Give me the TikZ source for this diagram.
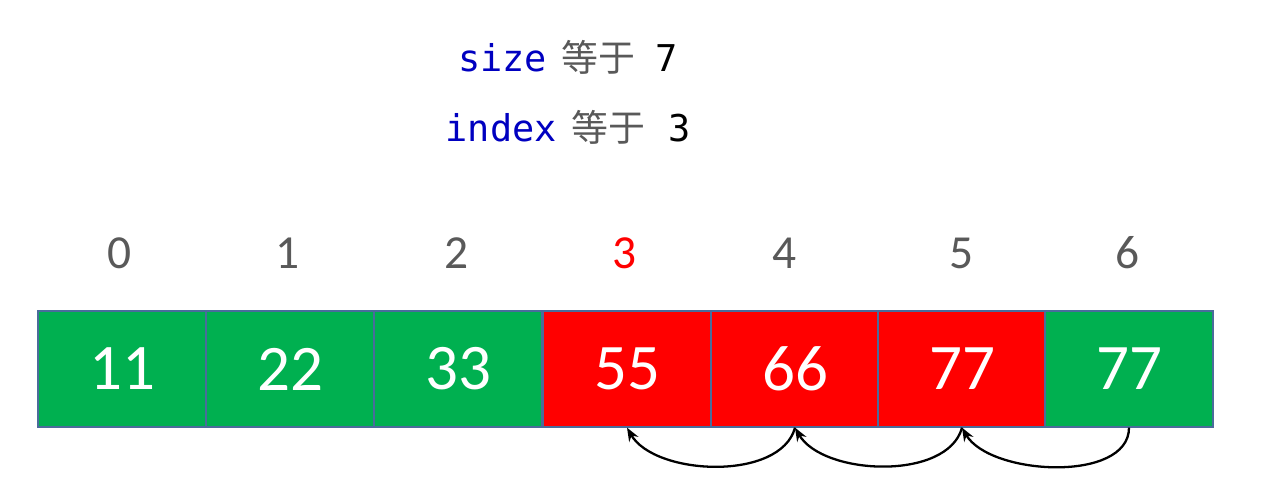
\documentclass[tikz,border=0pt]{standalone}
\usepackage{fontspec}
\setmainfont{Carlito}
\newfontfamily\cjkfont{Noto Sans CJK SC}
\newfontfamily\monofont{DejaVu Sans Mono}
\usetikzlibrary{arrows.meta}
\definecolor{cellgreen}{HTML}{00B050}
\definecolor{cellred}{HTML}{FF0000}
\definecolor{cellborder}{HTML}{4A6C9B}
\definecolor{labelgray}{HTML}{595959}
\definecolor{codeblue}{HTML}{0000C0}
\begin{document}
\begin{tikzpicture}[x=0.02cm,y=-0.02cm]

      \tikzset{cell/.style={draw=cellborder, line width=0.8pt, minimum width=3.36cm, minimum height=2.32cm, inner sep=0pt, text=white, font=\fontsize{37}{40}\selectfont},
               greencell/.style={cell, fill=cellgreen},
               redcell/.style={cell, fill=cellred},
               idx/.style={text=labelgray, font=\fontsize{27}{30}\selectfont},
               header/.style={font=\fontsize{21}{24}\selectfont},
               shiftarrow/.style={-{Stealth[length=0.27cm,width=0.21cm]}, line width=1.3pt}}
      \useasboundingbox (0,0) rectangle (1272,496);
%% Header
      	\node[header] (size) at (568,57) {\textcolor{codeblue}{\monofont size}\hspace{0.3cm}\textcolor{labelgray}{\cjkfont 等于}\hspace{0.4cm}{\monofont 7}};
      	\node[header] (index) at (568,127) {\textcolor{codeblue}{\monofont index}\hspace{0.3cm}\textcolor{labelgray}{\cjkfont 等于}\hspace{0.45cm}{\monofont 3}};
%% Indices
      	\node[idx] (i0) at (120,253) {0};
      	\node[idx] (i1) at (288,253) {1};
      	\node[idx] (i2) at (457,253) {2};
      	\node[idx, text=cellred] (i3) at (625,253) {3};
      	\node[idx] (i4) at (785,253) {4};
      	\node[idx] (i5) at (962,253) {5};
      	\node[idx] (i6) at (1128,253) {6};
%% Cells
      	\node[greencell] (c0) at (122,369) {11};
      	\node[greencell] (c1) at (290,369) {22};
      	\node[greencell] (c2) at (458,369) {33};
      	\node[redcell] (c3) at (627,369) {55};
      	\node[redcell] (c4) at (795,369) {66};
      	\node[redcell] (c5) at (962,369) {77};
      	\node[greencell] (c6) at (1129,369) {77};
%Shifts
		\draw[shiftarrow] (c6.south) to[out=-90, in=-60, looseness=0.85] (c5.south);
		\draw[shiftarrow] (c5.south) to[out=-105, in=-60, looseness=0.85] (c4.south);
		\draw[shiftarrow] (c4.south) to[out=-105, in=-60, looseness=0.85] (c3.south);

\end{tikzpicture}
\end{document}
